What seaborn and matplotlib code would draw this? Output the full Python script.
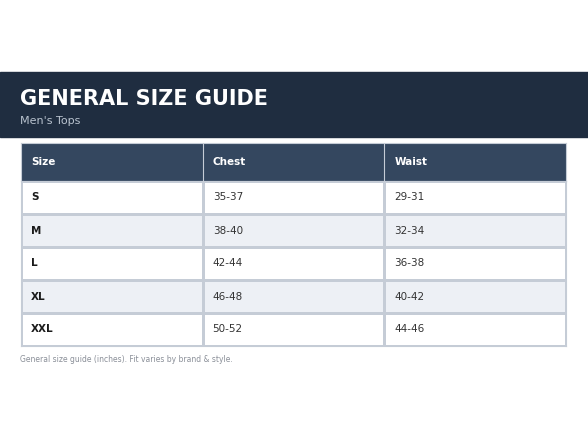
import numpy as np
import seaborn as sns
import matplotlib.pyplot as plt
from matplotlib.colors import ListedColormap
from matplotlib.patches import Rectangle

# Data
columns = ["Size", "Chest", "Waist"]
sizes = ["S", "M", "L", "XL", "XXL"]
chest = ["35-37", "38-40", "42-44", "46-48", "50-52"]
waist = ["29-31", "32-34", "36-38", "40-42", "44-46"]

W, H = 588, 441
fig = plt.figure(figsize=(W / 100, H / 100), dpi=100)
fig.patch.set_facecolor("white")


def fx(x):
    return x / W


def fy(y):
    return 1 - y / H


# title band
fig.patches.append(Rectangle((0, fy(137)), 1, (137 - 72) / H, transform=fig.transFigure,
                             color="#1f2d40", zorder=0))
fig.text(fx(20), fy(99), "GENERAL SIZE GUIDE", color="white", fontsize=15,
         fontweight="bold", va="center", ha="left")
fig.text(fx(20), fy(121), "Men's Tops", color="#b9c3cf", fontsize=8, va="center", ha="left")

# header row
hdr = fig.add_axes([fx(21), fy(181), fx(545), (181 - 143) / H])
hdr.set_xlim(0, 3)
hdr.set_ylim(0, 1)
hdr.set_facecolor("#34475f")
for i in range(1, 3):
    hdr.axvline(i, color="#c5ccd6", lw=0.8)
for i, c in enumerate(columns):
    hdr.text(i + 0.055, 0.5, c, color="white", fontsize=7.5, fontweight="bold", va="center")
hdr.set_xticks([])
hdr.set_yticks([])
for s in hdr.spines.values():
    s.set_color("#c5ccd6")

# body
body = fig.add_axes([fx(21), fy(346), fx(545), (346 - 181) / H])
stripes = np.array([[r % 2] * 3 for r in range(len(sizes))])
sns.heatmap(stripes, ax=body, cmap=ListedColormap(["white", "#edf0f5"]), cbar=False,
            linewidths=0.8, linecolor="#c5ccd6", xticklabels=False, yticklabels=False)
for r in range(len(sizes)):
    body.text(0.055, r + 0.5, sizes[r], fontsize=7.5, fontweight="bold", color="#1a1a1a", va="center")
    body.text(1.055, r + 0.5, chest[r], fontsize=7.5, color="#333333", va="center")
    body.text(2.055, r + 0.5, waist[r], fontsize=7.5, color="#333333", va="center")
for s in body.spines.values():
    s.set_visible(True)
    s.set_color("#c5ccd6")

fig.text(fx(20), fy(359), "General size guide (inches). Fit varies by brand & style.",
         color="#8a8f98", fontsize=5.5, va="center", ha="left")

fig.savefig("out.png", dpi=100)
